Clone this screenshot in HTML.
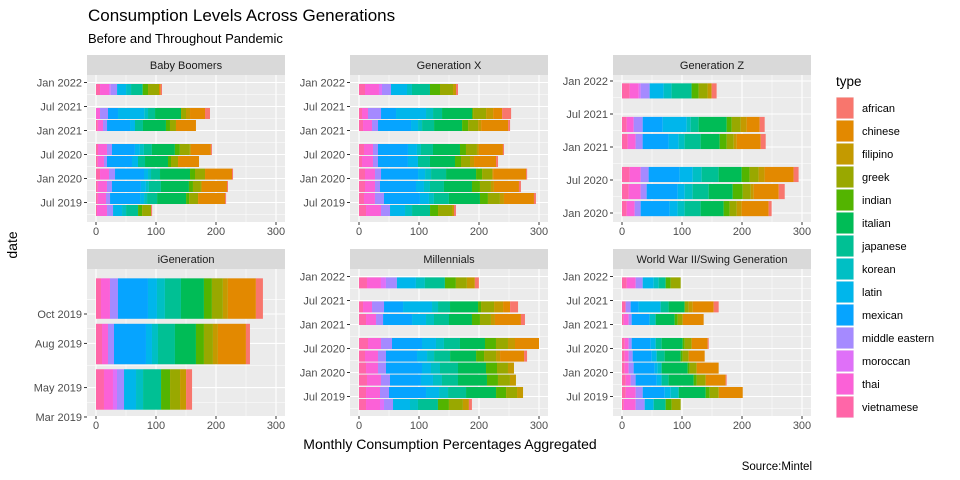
<!DOCTYPE html>
<html><head><meta charset="utf-8"><style>
html,body{margin:0;padding:0;background:#fff;}
svg{display:block;font-family:"Liberation Sans",Arial,sans-serif;}
</style></head><body>
<svg id="chart" width="960" height="480" viewBox="0 0 960 480" xmlns="http://www.w3.org/2000/svg">
<text x="88" y="21" font-size="17" fill="#000">Consumption Levels Across Generations</text>
<text x="88" y="43" font-size="13" fill="#000">Before and Throughout Pandemic</text>
<text transform="translate(17,245) rotate(-90)" text-anchor="middle" font-size="14" fill="#000">date</text>
<text x="450" y="449" text-anchor="middle" font-size="14" fill="#000">Monthly Consumption Percentages Aggregated</text>
<text x="812" y="470" text-anchor="end" font-size="11.5" fill="#000">Source:Mintel</text>
<g id="panels"></g>
<g id="legend"></g>
</svg>
<script>
// stacking order from x=0 outward
const stackTypes = ["vietnamese","thai","moroccan","middle eastern","mexican","latin","korean","japanese","italian","indian","greek","filipino","chinese","african"];
const legendTypes = ["african","chinese","filipino","greek","indian","italian","japanese","korean","latin","mexican","middle eastern","moroccan","thai","vietnamese"];
const typeColors = {"african":"#F8766D","chinese":"#E38900","filipino":"#C49A00","greek":"#99A800","indian":"#53B400","italian":"#00BC56","japanese":"#00C094","korean":"#00BFC4","latin":"#00B6EB","mexican":"#06A4FF","middle eastern":"#A58AFF","moroccan":"#DF70F8","thai":"#FB61D7","vietnamese":"#FF66A8"};
const xTicks = [0,100,200,300];

// months since Jan 2019 for each bar
const bbMonths = [34.25,28.25,25.25,19.25,16.25,13.1,10,7,4];
const bbValues = [
[6.7,15,2.8,10.6,0,15,8.3,19.4,0,8.9,18.3,0,2.8,2.2],
[0,6.7,0,13.3,16.7,43.9,6.1,11.7,43.3,0,8.3,6.7,25,8.3],
[3,8.7,0,6.7,38.3,8.3,0,13.3,38.3,6.7,10,0,33.3,0],
[3.3,15,0,8.3,38.3,8.3,6.7,13.3,38.3,8.3,16.7,1.7,33.3,1.7],
[3,10.3,0,5,41.7,10,0,11.7,38.3,5,11.7,0,35,0],
[6.7,15,0,10,48.3,6.7,5,15,50,8.3,16.7,0,45,1.7],
[3,15.3,0,8.3,48.3,8.3,5,20,46.7,6.7,13.3,1.7,41.7,1.7],
[3,13.7,0,6.7,50,6.7,5,16.7,48.3,5,15,0,45,1.7],
[1.7,16.7,0,10,0,15,6.7,20,0,6.7,15,0,0,1.7]];
const gxMonths = [34.25,28.25,25.25,19.25,16.25,13.1,10,7,4];
const gxValues = [
[10,23.3,5,15,0,26.7,8.3,30,0,16.7,21.7,5,0,3.3],
[5,10,0,21.7,25,50,11.7,15,50,1.7,21.7,11.7,15,15],
[6.7,15,0,10,55,11.7,6.7,20,46.7,10,16.7,5,45,3.3],
[8.3,15,0,8.3,50,15,6.7,20,45,10,18.3,3.3,40,1.7],
[5,18.3,0,8.3,50,16.7,0,20,41.7,10,15,6.7,36.7,3.3],
[10,16.7,0,10,61.7,11.7,10,25,50,10,16.7,1.7,55,1.7],
[10,16.7,0,8.3,60,13.3,10,23.3,46.7,13.3,18.3,5,41.7,3.3],
[8.3,18.3,0,15,60,15,8.3,25,51.7,13.3,20,6.7,50,3.3],
[11.7,25,0,15,0,25,11.7,30,0,13.3,23.3,3.3,0,3.3]];
const gzMonths = [34.2,28.1,25,19,15.9,12.8];
const gzValues = [
[12.8,15,3.3,15,0,23.3,13.3,33.3,0,11.7,15,6.7,0,8.3],
[7.8,11.7,0,15,33.3,40,6.7,13.3,46.7,8.3,15,10,21.7,8.3],
[9.4,13.3,0,11.7,43.3,16.7,10,26.7,31.7,11.7,11.7,5,40,8.3],
[12.8,18.3,0,13.3,51.7,21.7,15,28.3,38.3,13.3,15,10,48.3,8.3],
[11.1,20,0,10,51.7,11.7,13.3,26.7,40,16.7,13.3,5,41.7,10],
[7.8,13.3,0,10,48.3,13.3,11.7,26.7,38.3,10,11.7,8.3,45,5]];
const igMonths = [10.05,6.96,3.87];
const igValues = [
[8.3,15,0,13.3,50,15,13.3,26.7,38.3,13.3,18.3,8.3,46.7,11.7],
[10,10,0,10,53.3,10,10,28.3,35,13.3,15,8.3,46.7,6.7],
[13.3,15,6.7,11.7,0,20,11.7,30,0,15,16.7,10,0,10]];
const mlMonths = [34.4,28.4,25.25,19.25,16.1,13.1,10.1,7,4];
const mlValues = [
[13.3,23.3,8.3,18.3,0,31.7,15,33.3,0,18.3,18.3,13.3,0,6.7],
[6.7,15,0,20,31.7,48.3,10,20,46.7,5,21.7,15,11.7,13.3],
[11.7,16.7,0,11.7,48.3,23.3,13.3,25,38.3,13.3,18.3,6.7,43.3,6.7],
[15,21.7,0,18.3,50,23.3,13.3,26.7,41.7,18.3,20,11.7,40,0],
[10,21.7,0,13.3,51.7,16.7,11.7,26.7,43.3,13.3,20,6.7,40,5],
[11.7,20,0,13.3,60,15,15,30,46.7,18.3,18.3,10,0,0],
[13.3,23.3,0,15,51.7,20,15,26.7,48.3,18.3,20,10,0,0],
[11.7,23.3,0,15,61.7,21.7,15,30,50,16.7,18.3,10,0,0],
[11.7,23.3,6.7,15,0,28.3,13.3,33.3,0,18.3,23.3,10,0,5]];
const wwMonths = [34.4,28.4,25.25,19.25,16.1,13.1,10.1,7,4];
const wwValues = [
[7.8,15,0,11.7,0,18.3,8.3,11.7,0,8.3,16.7,0,0,0],
[6.1,0,0,8.3,13.3,36.7,0,13.3,26.7,0,6.7,6.7,35,8.3],
[2.8,8.3,0,5,30,0,10,0,31.7,5,8.3,0,35,0],
[4.4,6.7,0,5,31.7,8.3,0,10,35,3.3,11.7,0,26.7,1.7],
[4.4,6.7,0,6.7,31.7,8.3,0,13.3,26.7,3.3,10,0,26.7,0],
[4.4,6.7,0,8.3,35,5,6.7,0,43.3,3.3,11.7,0,36.7,0],
[6.1,8.3,0,8.3,35,8.3,0,11.7,41.7,5,15,0,33.3,1.7],
[6.1,16.7,0,11.7,36.7,10,13.3,0,45,6.7,15,0,40,0],
[2.8,20,0,15,0,15,0,20,0,10,15,0,0,0]];

const longTickLabels = ["Jan 2022","Jul 2021","Jan 2021","Jul 2020","Jan 2020","Jul 2019"];
const longTickMonths = [36,30,24,18,12,6];
const gzTickLabels = ["Jan 2022","Jul 2021","Jan 2021","Jul 2020","Jan 2020"];
const gzTickMonths = [36,30,24,18,12];
const igTickLabels = ["Oct 2019","Aug 2019","May 2019","Mar 2019"];
const igTickMonths = [9,7,4,2];

const NS = "http://www.w3.org/2000/svg";
function mk(tag, attrs, parent){const e=document.createElementNS(NS,tag);for(const k in attrs)e.setAttribute(k,attrs[k]);parent.appendChild(e);return e;}
const root = document.getElementById("panels");

const panels = [
 {title:"Baby Boomers", slug:"baby-boomers", left:87, top:75, bottom:222, y0:226.5, k:4, months:bbMonths, values:bbValues, tl:longTickLabels, tm:longTickMonths},
 {title:"Generation X", slug:"generation-x", left:350, top:75, bottom:222, y0:226.5, k:4, months:gxMonths, values:gxValues, tl:longTickLabels, tm:longTickMonths},
 {title:"Generation Z", slug:"generation-z", left:613, top:75, bottom:222, y0:279, k:5.5, months:gzMonths, values:gzValues, tl:gzTickLabels, tm:gzTickMonths},
 {title:"iGeneration", slug:"igeneration", left:87, top:269, bottom:416, y0:446.4, k:14.71, months:igMonths, values:igValues, tl:igTickLabels, tm:igTickMonths},
 {title:"Millennials", slug:"millennials", left:350, top:269, bottom:416, y0:420.5, k:4, months:mlMonths, values:mlValues, tl:longTickLabels, tm:longTickMonths},
 {title:"World War II/Swing Generation", slug:"world-war-ii-swing", left:613, top:269, bottom:416, y0:420.5, k:4, months:wwMonths, values:wwValues, tl:longTickLabels, tm:longTickMonths}
];
const W = 198, PX = 0.6, X0OFF = 9;

panels.forEach(p=>{
  const g = mk("g",{},root);
  
  
  const xs = v => p.left + X0OFF + v*PX;
  const ys = m => p.y0 - p.k*m;
  const h = p.bottom - p.top;
  // strip
  const strip = mk("rect",{x:p.left,y:p.top-20,width:W,height:20,fill:"#d9d9d9"},g);
  
  
  const st = mk("text",{x:p.left+W/2,y:p.top-6,"text-anchor":"middle","font-size":"11","fill":"#1a1a1a"},g);
  st.textContent = p.title;
  
  
  const bg = mk("rect",{x:p.left,y:p.top,width:W,height:h,fill:"#ebebeb"},g);
  
  
  const grid = mk("g",{},g);
  // minor x
  [50,150,250].forEach(v=>mk("line",{x1:xs(v),x2:xs(v),y1:p.top,y2:p.bottom,stroke:"#fff","stroke-width":"0.55"},grid));
  // minor y (midpoints)
  const tms = p.tm.slice().sort((a,b)=>a-b);
  const minors=[];
  for(let i=0;i<tms.length-1;i++)minors.push((tms[i]+tms[i+1])/2);
  minors.push(tms[0]-(tms[1]-tms[0])/2); minors.push(tms[tms.length-1]+(tms[tms.length-1]-tms[tms.length-2])/2);
  minors.forEach(m=>{const y=ys(m); if(y>p.top&&y<p.bottom) mk("line",{x1:p.left,x2:p.left+W,y1:y,y2:y,stroke:"#fff","stroke-width":"0.55"},grid);});
  // major
  xTicks.forEach(v=>mk("line",{x1:xs(v),x2:xs(v),y1:p.top,y2:p.bottom,stroke:"#fff","stroke-width":"1.1"},grid));
  p.tm.forEach(m=>mk("line",{x1:p.left,x2:p.left+W,y1:ys(m),y2:ys(m),stroke:"#fff","stroke-width":"1.1"},grid));
  // bars
  const half = 1.375;
  p.months.forEach((m,bi)=>{
    let cum = 0;
    const y1 = ys(m+half), y2 = ys(m-half);
    p.values[bi].forEach((v,ti)=>{
      if(v>0){
        const r = mk("rect",{x:xs(cum),y:y1,width:v*PX,height:y2-y1,fill:typeColors[stackTypes[ti]]},g);
        
        
      }
      cum += v;
    });
  });
  // y ticks
  p.tm.forEach((m,i)=>{
    const y=ys(m);
    mk("line",{x1:p.left-3,x2:p.left,y1:y,y2:y,stroke:"#333","stroke-width":"1"},g);
    const t=mk("text",{x:p.left-5,y:y+4,"text-anchor":"end","font-size":"11",fill:"#4d4d4d"},g);
    t.textContent=p.tl[i];
    
    
  });
  // x ticks
  xTicks.forEach(v=>{
    mk("line",{x1:xs(v),x2:xs(v),y1:p.bottom,y2:p.bottom+3,stroke:"#333","stroke-width":"1"},g);
    const t=mk("text",{x:xs(v),y:p.bottom+13,"text-anchor":"middle","font-size":"11",fill:"#4d4d4d"},g);
    t.textContent=v;
    
    
  });
});

// legend
const lg = document.getElementById("legend");
const lt = mk("text",{x:836,y:86,"font-size":"13.5",fill:"#000"},lg);
lt.textContent="type";


legendTypes.forEach((t,i)=>{
  const y = 97 + i*23;
  const e = mk("g",{},lg);
  
  
  mk("rect",{x:836,y:y,width:18,height:22,fill:"#f2f2f2"},e);
  mk("rect",{x:836.5,y:y+0.5,width:17,height:21,fill:typeColors[t]},e);
  const tx = mk("text",{x:862,y:y+15,"font-size":"11",fill:"#000"},e);
  tx.textContent=t;
});
</script>
</body></html>
